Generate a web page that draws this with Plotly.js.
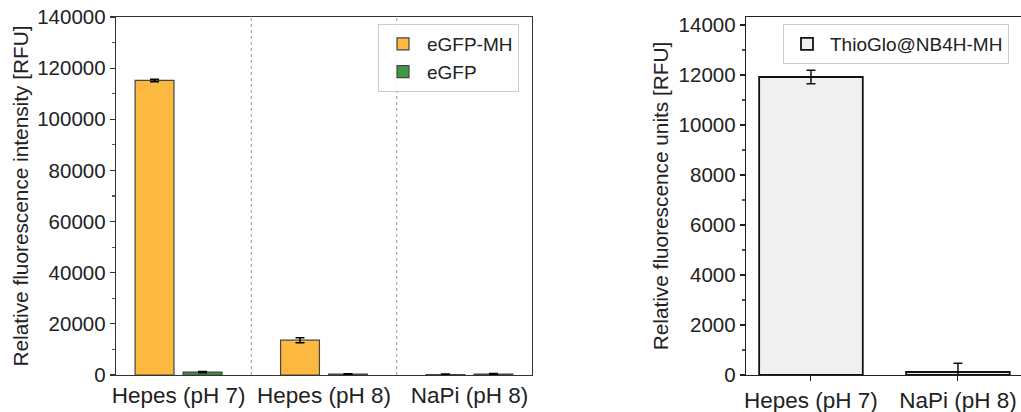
<!DOCTYPE html>
<html>
<head>
<meta charset="utf-8">
<script src="https://cdn.plot.ly/plotly-3.0.1.min.js"></script>
<style>html,body{margin:0;padding:0;background:#fff;}#chart{width:1021px;height:412px;}</style>
</head>
<body>
<div id="chart"></div>
<script>
// Left panel
var buffers = ["Hepes (pH 7)", "Hepes (pH 8)", "NaPi (pH 8)"];
var egfpMH = [115200, 13600, 200];
var egfpMHErr = [500, 1000, 150];
var egfp = [1150, 350, 400];
var egfpErr = [250, 150, 150];
var leftTicks = [0, 20000, 40000, 60000, 80000, 100000, 120000, 140000];

// Right panel
var buffers2 = ["Hepes (pH 7)", "NaPi (pH 8)"];
var thioGlo = [11920, 120];
var thioGloErr = [270, 350];
var rightTicks = [0, 2000, 4000, 6000, 8000, 10000, 12000, 14000];

var FONT = "Liberation Sans, Arial, Helvetica, sans-serif";

var traces = [
  {type:'bar', name:'eGFP-MH', x:buffers, y:egfpMH, xaxis:'x', yaxis:'y',
   marker:{color:'#fdb93f', line:{color:'#444444', width:1.2}},
   error_y:{type:'data', array:egfpMHErr, visible:true, color:'#000', thickness:1.5, width:4.5}},
  {type:'bar', name:'eGFP', x:buffers, y:egfp, xaxis:'x', yaxis:'y',
   marker:{color:'#3f9845', line:{color:'#444444', width:1.2}},
   error_y:{type:'data', array:egfpErr, visible:true, color:'#000', thickness:1.5, width:4.5}},
  {type:'bar', name:'ThioGlo@NB4H-MH', x:buffers2, y:thioGlo, xaxis:'x2', yaxis:'y2', width:0.705,
   marker:{color:'#f0f0f0', line:{color:'#111111', width:1.8}},
   error_y:{type:'data', array:thioGloErr, visible:true, color:'#111', thickness:1.5, width:4.5},
   legend:'legend2'}
];

var shapes = [0.5, 1.5].map(function(v){
  return {type:'line', xref:'x', yref:'y domain', x0:v, x1:v, y0:0, y1:1,
          line:{color:'#aaaaaa', width:1.2, dash:'dot'}, layer:'below'};
});

var layout = {
  width:1021, height:412,
  margin:{l:0, r:0, t:0, b:0},
  paper_bgcolor:'#fff', plot_bgcolor:'#fff',
  font:{family:FONT, color:'#222', size:20},
  barmode:'group', bargap:0.34, bargroupgap:0.19,
  showlegend:true,
  xaxis:{domain:[116/1021, 532/1021], range:[-0.43, 2.43], type:'category',
         showline:true, linecolor:'#333', linewidth:1.3, mirror:true,
         ticks:'', showgrid:false, zeroline:false,
         tickfont:{size:22.5, family:FONT, color:'#222'}, fixedrange:true},
  yaxis:{domain:[1-375/412, 1-17/412], range:[0, 140000],
         tickvals:leftTicks, ticktext:leftTicks.map(String),
         showline:true, linecolor:'#333', linewidth:1.3, mirror:true,
         ticks:'outside', ticklen:5, tickcolor:'#333', tickwidth:1.2,
         minor:{dtick:10000, ticks:'outside', ticklen:3, tickcolor:'#555', showgrid:false},
         showgrid:false, zeroline:false,
         tickfont:{size:20.5, family:FONT, color:'#222'},
         title:{text:'Relative fluorescence intensity [RFU]', font:{size:20.8, family:FONT, color:'#222'}, standoff:3}},
  xaxis2:{domain:[746/1021, 1], range:[-0.442, 1.429], type:'category', anchor:'y2',
          showline:true, linecolor:'#222', linewidth:1.3, mirror:true,
          ticks:'outside', ticklen:5, tickcolor:'#222', showgrid:false, zeroline:false,
          tickfont:{size:22.5, family:FONT, color:'#222'}, fixedrange:true},
  yaxis2:{domain:[1-375/412, 1-17/412], range:[0, 14320], anchor:'x2',
          tickvals:rightTicks, ticktext:rightTicks.map(String),
          showline:true, linecolor:'#222', linewidth:1.3, mirror:false,
          ticks:'outside', ticklen:5, tickcolor:'#222', tickwidth:1.2,
          minor:{dtick:1000, ticks:'outside', ticklen:3, tickcolor:'#555', showgrid:false},
          showgrid:false, zeroline:false,
          tickfont:{size:20.5, family:FONT, color:'#222'},
          title:{text:'Relative fluorescence units [RFU]', font:{size:20.8, family:FONT, color:'#222'}, standoff:4}},
  legend:{x:378/1021, y:1-24/412, xanchor:'left', yanchor:'top',
          bgcolor:'rgba(255,255,255,0.9)', bordercolor:'#cccccc', borderwidth:1,
          font:{size:19, family:FONT, color:'#222'}, tracegroupgap:0, itemwidth:38},
  legend2:{x:783/1021, y:1-24/412, xanchor:'left', yanchor:'top',
          bgcolor:'rgba(255,255,255,0.9)', bordercolor:'#cccccc', borderwidth:1,
          font:{size:19, family:FONT, color:'#222'}, itemwidth:36},
  shapes:shapes
};

Plotly.newPlot('chart', traces, layout, {displayModeBar:false, staticPlot:true});
</script>
</body>
</html>
